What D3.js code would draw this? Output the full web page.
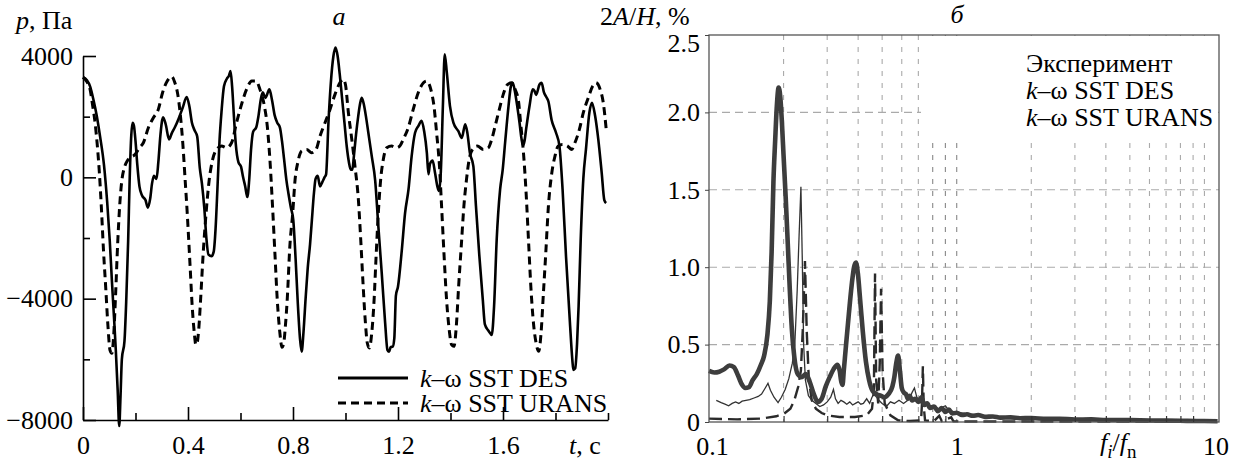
<!DOCTYPE html>
<html>
<head>
<meta charset="utf-8">
<script src="https://cdn.jsdelivr.net/npm/d3@7"></script>
<style>
  html, body { margin: 0; padding: 0; background: #fff; }
  svg { display: block; font-family: "Liberation Serif", "DejaVu Serif", serif; }
</style>
</head>
<body>
<script>
// ---------- (a) pressure time history ----------
const pTicksMajor = [-8000, -4000, 0, 4000];
const pTicksMinor = [-6000, -2000, 2000];
const tTicksMajor = [0, 0.4, 0.8, 1.2, 1.6];
const tTicksMinor = [0.2, 0.6, 1.0, 1.4, 1.8, 2.0];

const desT = [0,0.015,0.027,0.04,0.052,0.065,0.08,0.092,0.102,0.11,0.118,0.125,0.132,0.138,0.143,0.148,0.158,0.165,0.172,0.178,0.184,0.189,0.194,0.2,0.207,0.215,0.225,0.238,0.247,0.256,0.263,0.27,0.28,0.287,0.295,0.305,0.315,0.328,0.338,0.35,0.365,0.38,0.395,0.405,0.415,0.425,0.435,0.445,0.453,0.462,0.47,0.478,0.49,0.498,0.505,0.512,0.52,0.528,0.537,0.548,0.556,0.562,0.568,0.575,0.582,0.592,0.602,0.61,0.618,0.626,0.633,0.64,0.648,0.66,0.668,0.678,0.685,0.695,0.71,0.72,0.73,0.74,0.75,0.758,0.766,0.775,0.782,0.792,0.801,0.81,0.818,0.827,0.833,0.84,0.848,0.856,0.865,0.872,0.88,0.886,0.894,0.903,0.912,0.92,0.926,0.935,0.944,0.954,0.962,0.97,0.978,0.987,0.996,1.005,1.013,1.02,1.026,1.032,1.04,1.049,1.056,1.062,1.07,1.078,1.087,1.1,1.113,1.125,1.138,1.151,1.16,1.166,1.172,1.18,1.186,1.192,1.2,1.214,1.227,1.24,1.252,1.265,1.278,1.29,1.3,1.31,1.316,1.322,1.332,1.341,1.35,1.356,1.363,1.371,1.378,1.386,1.398,1.411,1.43,1.443,1.456,1.464,1.474,1.487,1.497,1.51,1.523,1.531,1.544,1.552,1.557,1.566,1.576,1.589,1.599,1.608,1.621,1.63,1.637,1.645,1.655,1.663,1.67,1.676,1.682,1.688,1.701,1.713,1.72,1.726,1.739,1.747,1.756,1.765,1.773,1.785,1.802,1.815,1.827,1.84,1.855,1.864,1.868,1.875,1.882,1.888,1.896,1.906,1.916,1.929,1.939,1.951,1.963,1.976,1.986,1.993];
const desP = [3300,3200,3000,2550,2050,1350,400,-800,-2100,-3400,-4600,-5700,-7000,-8200,-7200,-6000,-5400,-4000,-2100,0,1400,1800,1700,1200,400,-300,-600,-750,-1000,-700,-200,50,-50,500,1400,1980,1750,1250,1450,1650,1950,2300,2650,2350,1800,1550,1350,300,-200,-1000,-2000,-2550,-2600,-2450,-1700,-400,1200,2200,3000,3250,3350,3500,3000,2000,1100,500,350,0,-300,-650,-100,900,1500,1650,2000,2600,2800,2620,2900,2550,2050,1800,1650,1200,600,-100,-500,-1000,-1400,-2700,-4100,-5350,-5750,-5100,-4000,-3000,-2200,-1400,-500,-50,50,-300,-150,0,100,1800,3100,4000,4280,4000,3400,2600,1800,1000,500,250,250,700,1400,2050,2450,2620,2400,2000,1470,700,-100,-1600,-3150,-4800,-5700,-5750,-5600,-5580,-5300,-3900,-3600,-2450,-1170,-400,700,1470,1700,1860,1500,800,100,450,550,150,-300,-450,150,2350,4060,3450,2350,1800,1520,1300,1750,1480,800,370,-950,-2600,-4030,-4850,-5050,-5150,-5200,-4250,-2050,-400,260,1140,2350,3000,3120,2850,2300,1800,1300,1050,1200,1580,2350,2900,2850,2720,3060,3120,2800,2650,2500,1900,1470,1030,-400,-2600,-4800,-6000,-6350,-6300,-5500,-4250,-2050,-50,920,2130,2460,2020,1250,150,-750,-850];

const uransT = [0,0.015,0.027,0.037,0.046,0.054,0.062,0.07,0.078,0.087,0.095,0.103,0.11,0.117,0.124,0.132,0.14,0.148,0.157,0.169,0.18,0.198,0.215,0.23,0.249,0.268,0.287,0.303,0.321,0.338,0.35,0.361,0.37,0.38,0.389,0.397,0.408,0.416,0.424,0.43,0.435,0.441,0.448,0.458,0.469,0.481,0.494,0.509,0.528,0.547,0.566,0.585,0.604,0.623,0.643,0.659,0.674,0.691,0.702,0.712,0.722,0.731,0.74,0.75,0.758,0.765,0.771,0.778,0.788,0.799,0.808,0.818,0.833,0.852,0.871,0.888,0.903,0.922,0.941,0.96,0.979,0.992,1.0,1.011,1.024,1.036,1.049,1.058,1.066,1.075,1.083,1.091,1.1,1.109,1.116,1.125,1.134,1.144,1.157,1.176,1.195,1.207,1.22,1.239,1.258,1.277,1.297,1.309,1.325,1.337,1.347,1.358,1.366,1.375,1.385,1.395,1.404,1.413,1.423,1.431,1.441,1.451,1.461,1.471,1.484,1.502,1.525,1.544,1.557,1.57,1.586,1.601,1.618,1.633,1.646,1.659,1.667,1.678,1.688,1.697,1.706,1.716,1.726,1.736,1.745,1.754,1.763,1.773,1.786,1.798,1.81,1.827,1.846,1.862,1.874,1.891,1.906,1.925,1.942,1.954,1.97,1.982,1.993];
const uransP = [3300,3150,2900,2350,1800,1100,200,-1000,-2400,-3700,-4900,-5700,-5800,-5200,-3900,-2200,-900,-100,300,550,650,750,975,1140,1635,1965,2240,2790,3175,3320,3120,2735,2130,1140,-70,-1170,-2930,-4250,-5130,-5520,-5450,-5000,-4030,-2490,-1170,-70,590,920,1030,975,1140,1800,2405,2900,3175,3180,2900,2350,1690,590,-950,-2490,-4030,-5130,-5600,-5450,-4900,-4030,-2270,-1170,-70,480,865,920,810,920,1360,1800,2240,2735,3120,3230,3050,2130,1250,370,-730,-2050,-3370,-4690,-5460,-5625,-5130,-4030,-2710,-1170,-70,590,975,1030,975,1030,1250,1635,2240,2790,3120,3175,2900,2350,1470,370,-950,-2490,-4030,-5020,-5515,-5570,-4800,-3590,-2270,-950,-70,590,920,1030,920,975,1250,1690,2240,2735,3065,3120,2900,2515,1800,810,-510,-2050,-3590,-4800,-5460,-5735,-5130,-3810,-2490,-950,150,700,1030,1085,1030,920,1140,1580,2130,2625,3010,3120,2900,2460,1600];

// ---------- (б) amplitude spectrum ----------
const aTicks = [0, 0.5, 1.0, 1.5, 2.0, 2.5];
const fTicks = [0.1, 1, 10];
const fGrid = [0.2,0.3,0.4,0.5,0.6,0.7,0.8,0.9,1,2,3,4,5,6,7,8,9,10];
const aGrid = [0.5, 1.0, 1.5, 2.0];

const expF = [0.1,0.105,0.11,0.115,0.121,0.126,0.131,0.136,0.14,0.145,0.15,0.156,0.162,0.167,0.172,0.176,0.179,0.182,0.185,0.188,0.191,0.194,0.197,0.2,0.204,0.208,0.212,0.216,0.221,0.228,0.237,0.246,0.255,0.265,0.275,0.285,0.296,0.307,0.318,0.33,0.337,0.342,0.346,0.35,0.358,0.367,0.377,0.385,0.392,0.399,0.407,0.418,0.43,0.443,0.458,0.475,0.493,0.511,0.53,0.55,0.56,0.57,0.58,0.59,0.6,0.612,0.624,0.635,0.646,0.66,0.68,0.7,0.72,0.74,0.76,0.78,0.81,0.84,0.87,0.9,0.93,0.96,1.0,1.05,1.1,1.16,1.22,1.3,1.4,1.5,1.65,1.8,2.0,2.3,2.6,3.0,3.5,4.0,5.0,6.0,7.0,8.5,10,11.3];
const expA = [0.33,0.32,0.325,0.34,0.365,0.355,0.3,0.24,0.22,0.225,0.27,0.31,0.37,0.43,0.56,0.78,1.1,1.55,1.82,2.05,2.16,2.1,1.93,1.72,1.45,1.15,0.85,0.6,0.42,0.31,0.29,0.31,0.26,0.18,0.13,0.15,0.23,0.29,0.34,0.37,0.33,0.26,0.24,0.33,0.51,0.7,0.89,1.0,1.03,0.96,0.8,0.58,0.39,0.27,0.2,0.18,0.17,0.16,0.18,0.23,0.29,0.38,0.43,0.33,0.22,0.19,0.18,0.15,0.17,0.14,0.15,0.13,0.16,0.11,0.12,0.09,0.1,0.07,0.09,0.065,0.08,0.055,0.06,0.045,0.05,0.04,0.045,0.033,0.036,0.028,0.03,0.024,0.026,0.02,0.021,0.016,0.017,0.013,0.012,0.01,0.009,0.007,0.006,0.005];

const desF = [0.107,0.112,0.116,0.12,0.124,0.128,0.132,0.136,0.141,0.146,0.152,0.158,0.163,0.168,0.173,0.177,0.183,0.19,0.196,0.203,0.21,0.217,0.222,0.227,0.231,0.235,0.238,0.241,0.245,0.252,0.26,0.27,0.28,0.29,0.3,0.31,0.318,0.324,0.332,0.341,0.35,0.36,0.37,0.38,0.39,0.4,0.41,0.42,0.433,0.445,0.455,0.463,0.475,0.485,0.5,0.52,0.54,0.56,0.585,0.61,0.646,0.66,0.675,0.69,0.72,0.76,0.81,0.85,0.9,0.93,0.98,1.08,1.25,1.55,2.0,2.9,5.0,10.2];
const desA = [0.14,0.125,0.115,0.105,0.12,0.13,0.12,0.135,0.14,0.145,0.155,0.165,0.18,0.215,0.25,0.205,0.16,0.125,0.16,0.21,0.28,0.38,0.5,0.85,1.2,1.52,1.05,0.5,0.27,0.17,0.14,0.12,0.1,0.11,0.13,0.16,0.21,0.15,0.12,0.14,0.13,0.115,0.13,0.11,0.12,0.13,0.115,0.12,0.15,0.12,0.16,0.18,0.16,0.14,0.12,0.1,0.13,0.12,0.14,0.12,0.15,0.19,0.22,0.16,0.12,0.11,0.1,0.085,0.105,0.075,0.065,0.055,0.043,0.032,0.022,0.015,0.009,0.004];

const uransF = [0.1,0.13,0.162,0.187,0.201,0.213,0.221,0.229,0.235,0.239,0.244,0.248,0.253,0.26,0.27,0.285,0.301,0.336,0.388,0.433,0.455,0.463,0.468,0.473,0.482,0.489,0.495,0.502,0.512,0.54,0.58,0.647,0.718,0.724,0.73,0.736,0.745,0.81,0.85,0.87,0.95,0.97,1.2,10.5];
const uransA = [0.022,0.017,0.022,0.037,0.054,0.086,0.14,0.226,0.334,0.59,1.04,0.59,0.27,0.14,0.086,0.058,0.043,0.032,0.032,0.043,0.086,0.2,0.96,0.27,0.12,0.38,0.86,0.33,0.12,0.043,0.011,0.006,0.01,0.12,0.36,0.1,0.01,0.006,0.04,0.006,0.03,0.004,0.003,0.002];

const zip = (xs, ys) => xs.map((x, i) => [x, ys[i]]);

const svg = d3.select("body").append("svg")
  .attr("width", 1235).attr("height", 463);
svg.append("rect").attr("width", 1235).attr("height", 463).attr("fill", "#fff");

const FONT = "'Liberation Serif', 'DejaVu Serif', serif";

function styleAxisText(g, size) {
  g.selectAll("text").attr("font-family", FONT).attr("font-size", size).attr("fill", "#000");
}

// ===== Panel a =====
const xL = d3.scaleLinear().domain([0, 2]).range([83, 608]);
const yL = d3.scaleLinear().domain([-8000, 4000]).range([420, 56]);

const left = svg.append("g");

const yAxisMajor = left.append("g").attr("transform", `translate(${xL(0)},0)`)
  .call(d3.axisLeft(yL).tickValues(pTicksMajor).tickSize(-13).tickSizeOuter(0)
    .tickPadding(10).tickFormat(d3.format("d")));
yAxisMajor.selectAll("line, path").attr("stroke", "#000").attr("stroke-width", 1.6);
styleAxisText(yAxisMajor, 26);

const yAxisMinor = left.append("g").attr("transform", `translate(${xL(0)},0)`)
  .call(d3.axisLeft(yL).tickValues(pTicksMinor).tickSize(-7).tickFormat(""));
yAxisMinor.select(".domain").remove();
yAxisMinor.selectAll("line").attr("stroke", "#000").attr("stroke-width", 1.6);

const xAxisMajor = left.append("g").attr("transform", `translate(0,${yL(-8000)})`)
  .call(d3.axisBottom(xL).tickValues(tTicksMajor).tickSize(-13).tickSizeOuter(0)
    .tickPadding(16).tickFormat(d => d === 0 ? "0" : d3.format(".1f")(d)));
xAxisMajor.selectAll("line, path").attr("stroke", "#000").attr("stroke-width", 1.6);
styleAxisText(xAxisMajor, 26);

const xAxisMinor = left.append("g").attr("transform", `translate(0,${yL(-8000)})`)
  .call(d3.axisBottom(xL).tickValues(tTicksMinor).tickSize(-7).tickFormat(""));
xAxisMinor.select(".domain").remove();
xAxisMinor.selectAll("line").attr("stroke", "#000").attr("stroke-width", 1.6);

const lineL = d3.line().x(d => xL(d[0])).y(d => yL(d[1])).curve(d3.curveMonotoneX);

left.append("path").datum(zip(uransT, uransP)).attr("d", lineL)
  .attr("fill", "none").attr("stroke", "#000").attr("stroke-width", 3)
  .attr("stroke-dasharray", "8,5");
left.append("path").datum(zip(desT, desP)).attr("d", lineL)
  .attr("fill", "none").attr("stroke", "#000").attr("stroke-width", 2.6)
  .attr("stroke-linejoin", "round");

// axis titles, panel letter
left.append("text").attr("x", 16).attr("y", 29).attr("font-family", FONT).attr("font-size", 26)
  .call(t => { t.append("tspan").attr("font-style", "italic").text("p"); t.append("tspan").text(", Па"); });
left.append("text").attr("x", 339).attr("y", 25).attr("text-anchor", "middle")
  .attr("font-family", FONT).attr("font-size", 26).attr("font-style", "italic").text("a");
left.append("text").attr("x", 585).attr("y", 454).attr("text-anchor", "middle")
  .attr("font-family", FONT).attr("font-size", 26)
  .call(t => { t.append("tspan").attr("font-style", "italic").text("t"); t.append("tspan").text(", c"); });

// legend
const legL = left.append("g").attr("font-family", FONT).attr("font-size", 26);
[["DES", null, 378], ["URANS", "8,5", 403]].forEach(([name, dash, y]) => {
  legL.append("line").attr("x1", 338).attr("x2", 408).attr("y1", y).attr("y2", y)
    .attr("stroke", "#000").attr("stroke-width", dash ? 3 : 2.8)
    .attr("stroke-dasharray", dash);
  legL.append("text").attr("x", 420).attr("y", y + 9)
    .call(t => { t.append("tspan").attr("font-style", "italic").text("k");
                 t.append("tspan").text("–ω SST " + name); });
});

// ===== Panel б =====
const xR = d3.scaleLog().domain([0.1, 11.45]).range([709, 1219]);
const yR = d3.scaleLinear().domain([0, 2.5]).range([422, 35]);

const right = svg.append("g");
const defs = svg.append("defs");
defs.append("filter").attr("id", "soft").append("feGaussianBlur").attr("stdDeviation", 0.55);

// grid
const grid = right.append("g");
grid.selectAll("line.v").data(fGrid).join("line").attr("class", "v")
  .attr("x1", d => xR(d)).attr("x2", d => xR(d)).attr("y1", yR(2.5)).attr("y2", yR(0))
  .attr("stroke", d => (d >= 0.8 && d <= 1) ? "#888" : "#aaa").attr("stroke-width", 1.1)
  .attr("stroke-dasharray", "5,7");
grid.selectAll("line.h").data(aGrid).join("line").attr("class", "h")
  .attr("x1", xR.range()[0]).attr("x2", xR.range()[1]).attr("y1", d => yR(d)).attr("y2", d => yR(d))
  .attr("stroke", "#aaa").attr("stroke-width", 1.1).attr("stroke-dasharray", "8,5");

// legend background
right.append("rect").attr("x", 921).attr("y", 36).attr("width", 297).attr("height", 104).attr("fill", "#fff");

// curves
const lineR = d3.line().x(d => xR(d[0])).y(d => yR(d[1]));
const curves = right.append("g").attr("filter", "url(#soft)");
curves.append("path").datum(zip(uransF, uransA)).attr("d", lineR)
  .attr("fill", "none").attr("stroke", "#2a2a2a").attr("stroke-width", 2.4)
  .attr("stroke-dasharray", "13,6");
curves.append("path").datum(zip(desF, desA)).attr("d", lineR)
  .attr("fill", "none").attr("stroke", "#333").attr("stroke-width", 1.3);
curves.append("path").datum(zip(expF, expA)).attr("d", lineR.curve(d3.curveMonotoneX))
  .attr("fill", "none").attr("stroke", "#3c3c3c").attr("stroke-width", 4.6)
  .attr("stroke-linejoin", "round");

// frame
right.append("rect").attr("x", 709).attr("y", 35).attr("width", 510).attr("height", 387)
  .attr("fill", "none").attr("stroke", "#555").attr("stroke-width", 1.3);

// axes
const yAxisR = right.append("g").attr("transform", "translate(709,0)")
  .call(d3.axisLeft(yR).tickValues(aTicks).tickSize(4).tickPadding(5)
    .tickFormat(d => d === 0 ? "0" : d3.format(".1f")(d)));
yAxisR.select(".domain").remove();
yAxisR.selectAll("line").attr("stroke", "#444");
styleAxisText(yAxisR, 26);
yAxisR.selectAll("text").filter(d => d === 2.5).attr("dy", "0.62em");

const xAxisR = right.append("g").attr("transform", "translate(0,422)")
  .call(d3.axisBottom(xR).tickValues(fTicks).tickSize(0).tickPadding(15)
    .tickFormat(d => d === 0.1 ? "0.1" : String(d)));
xAxisR.select(".domain").remove();
styleAxisText(xAxisR, 26);
xAxisR.selectAll("text").filter(d => d === 10).attr("dx", 11);
xAxisR.selectAll("text").filter(d => d === 0.1).attr("dx", 3);

const xMinorR = right.append("g").attr("transform", "translate(0,422)")
  .call(d3.axisBottom(xR).tickValues(fGrid.filter(f => f !== 1 && f !== 10)).tickSize(-6).tickFormat(""));
xMinorR.select(".domain").remove();
xMinorR.selectAll("line").attr("stroke", "#333").attr("stroke-width", 1.2);

// titles
right.append("text").attr("x", 600).attr("y", 25).attr("font-family", FONT).attr("font-size", 26)
  .call(t => {
    t.append("tspan").text("2");
    t.append("tspan").attr("font-style", "italic").text("A");
    t.append("tspan").text("/");
    t.append("tspan").attr("font-style", "italic").text("H");
    t.append("tspan").text(", %");
  });
right.append("text").attr("x", 957).attr("y", 23).attr("text-anchor", "middle")
  .attr("font-family", FONT).attr("font-size", 26).attr("font-style", "italic").text("б");
right.append("text").attr("x", 1100).attr("y", 451).attr("font-family", FONT).attr("font-size", 26)
  .call(t => {
    t.append("tspan").attr("font-style", "italic").text("f");
    t.append("tspan").attr("font-style", "italic").attr("font-size", 19).attr("dy", 7).text("i");
    t.append("tspan").attr("dy", -7).text("/");
    t.append("tspan").attr("font-style", "italic").text("f");
    t.append("tspan").attr("font-size", 19).attr("dy", 7).text("n");
  });

// legend
const legR = right.append("g").attr("font-family", FONT).attr("font-size", 26);
const legItems = [
  { label: null, text: "Эксперимент", width: 4.6, dash: null, y: 63 },
  { label: "DES", width: 1.3, dash: null, y: 90 },
  { label: "URANS", width: 2.4, dash: "13,6", y: 117 }
];
legItems.forEach(it => {
  legR.append("line").attr("x1", 924).attr("x2", 1017).attr("y1", it.y).attr("y2", it.y)
    .attr("stroke", "#333").attr("stroke-width", it.width).attr("stroke-dasharray", it.dash)
    .attr("filter", "url(#soft)");
  const t = legR.append("text").attr("x", 1026).attr("y", it.y + 9);
  if (it.text) t.text(it.text);
  else {
    t.append("tspan").attr("font-style", "italic").text("k");
    t.append("tspan").text("–ω SST " + it.label);
  }
});
</script>
</body>
</html>
